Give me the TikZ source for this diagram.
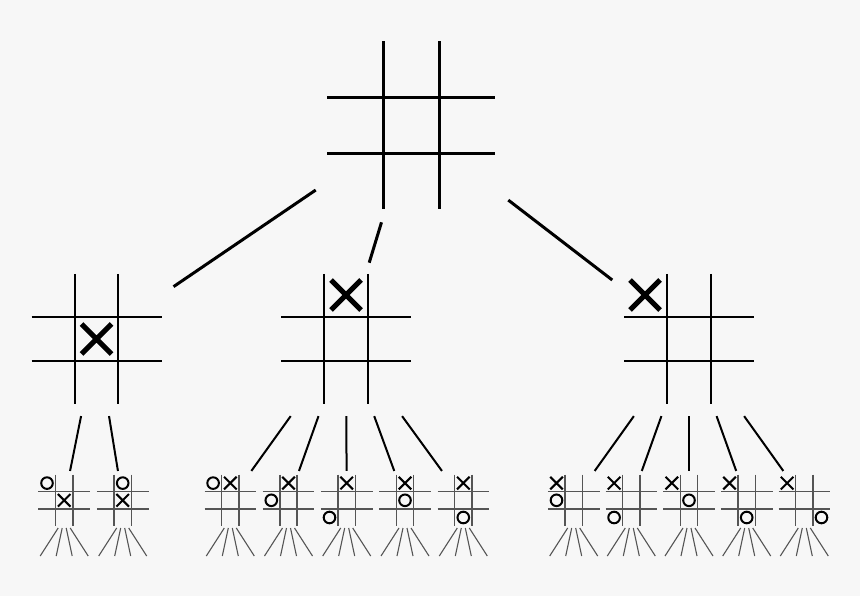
\documentclass[tikz,border=0pt]{standalone}
\usepackage{xcolor}
\usepackage{tikz}
\usetikzlibrary{calc}
\definecolor{paper}{HTML}{F7F7F7}
\definecolor{pencil}{HTML}{555555}
\tikzstyle{ttt.big} = [line width=3pt, black]
\tikzstyle{ttt.mid} = [line width=2.3pt, black]
\tikzstyle{ttt.small} = [line width=1.4pt, pencil]
\tikzstyle{ttt.xbig} = [line width=5pt, black]
\tikzstyle{ttt.xsmall} = [line width=2pt, black]
\tikzstyle{ttt.edge} = [line width=3pt, black]
\tikzstyle{ttt.twig} = [line width=2pt, black]
\tikzstyle{ttt.fan} = [line width=1.1pt, pencil]

% grid: style, centre, half spacing, half length
\newcommand{\tttgrid}[4]{%
  \foreach \s in {-1,1} {
    \draw[#1] ($(#2)+(\s*#3,-#4)$) -- ($(#2)+(\s*#3,#4)$);
    \draw[#1] ($(#2)+(-#4,\s*#3)$) -- ($(#2)+(#4,\s*#3)$);
  }}
\newcommand{\tttx}[3]{\draw[#1] ($#2+(-#3,-#3)$) -- ($#2+(#3,#3)$) ($#2+(-#3,#3)$) -- ($#2+(#3,-#3)$);}
\newcommand{\ttto}[1]{\draw[ttt.xsmall] ($#1$) circle[radius=5.8pt];}

\begin{document}
\begin{tikzpicture}[x=1pt, y=-1pt]
\fill[paper] (0,0) rectangle (860,596);

\coordinate (root) at (411,125.3);
\coordinate (a) at (96.5,339);
\coordinate (b) at (346,339);
\coordinate (c) at (689,339);
\foreach \n/\x in {l1/64.2, l2/122.7, m1/230.3, m2/288.5, m3/346.7, m4/405, m5/463.3,
                   r1/573.7, r2/631.3, r3/689, r4/746.7, r5/804.3}
  \coordinate (\n) at (\x,500.3);

% boards
\tttgrid{ttt.big}{root}{28}{84}
\foreach \n in {a,b,c} {\tttgrid{ttt.mid}{\n}{21.8}{65}}
\foreach \n in {l1,l2,m1,m2,m3,m4,m5,r1,r2,r3,r4,r5} {
  \tttgrid{ttt.small}{\n}{8.6}{25.8}
  \foreach \o in {-3,-1,1,3}
    \draw[ttt.fan] ($(\n)+(2*\o,27.7)$) -- ($(\n)+(8*\o,55.7)$);
}

% first moves
\tttx{ttt.xbig}{(a)}{15}
\tttx{ttt.xbig}{(b)+(0,-44)}{15}
\tttx{ttt.xbig}{(c)+(-44,-44)}{15}

% replies
\ttto{(l1)+(-17.2,-17.2)} \tttx{ttt.xsmall}{(l1)}{6.3}
\ttto{(l2)+(0,-17.2)} \tttx{ttt.xsmall}{(l2)}{6.3}
\foreach \n/\i/\j in {m1/-1/-1, m2/-1/0, m3/-1/1, m4/0/0, m5/0/1} {
  \tttx{ttt.xsmall}{(\n)+(0,-17.2)}{6.3}
  \ttto{(\n)+(\i*17.2,\j*17.2)}
}
\foreach \n/\i/\j in {r1/-1/0, r2/-1/1, r3/0/0, r4/0/1, r5/1/1} {
  \tttx{ttt.xsmall}{(\n)+(-17.2,-17.2)}{6.3}
  \ttto{(\n)+(\i*17.2,\j*17.2)}
}

% tree edges
\draw[ttt.edge] ($(root)!0.303!(a)$) -- ($(root)!0.755!(a)$);
\draw[ttt.edge] ($(root)!0.454!(b)$) -- ($(root)!0.643!(b)$);
\draw[ttt.edge] ($(root)!0.35!(c)$) -- ($(root)!0.724!(c)$);
\foreach \p/\k in {a/l1, a/l2, b/m1, b/m2, b/m3, b/m4, b/m5, c/r1, c/r2, c/r3, c/r4, c/r5}
  \draw[ttt.twig] ($(\p)!0.478!(\k)$) -- ($(\p)!0.818!(\k)$);
\end{tikzpicture}
\end{document}
